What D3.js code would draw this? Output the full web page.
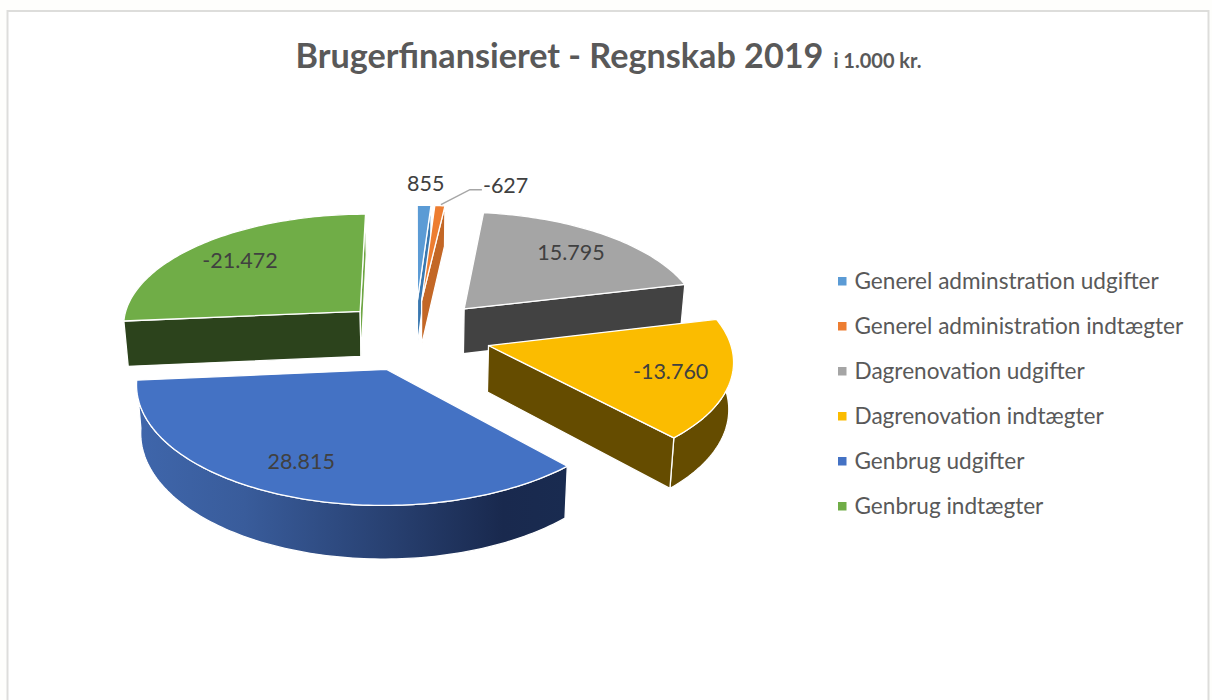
<!DOCTYPE html>
<html><head><meta charset="utf-8">
<script src="https://d3js.org/d3.v7.min.js"></script>
<style>html,body{margin:0;padding:0;background:#FEFEFC}svg{display:block}text{font-family:Lato,"Open Sans",sans-serif}</style>
</head><body><svg id="c" width="1212" height="700"></svg>
<script>
const categories=["Generel adminstration udgifter","Generel administration indtægter","Dagrenovation udgifter","Dagrenovation indtægter","Genbrug udgifter","Genbrug indtægter"];
const values=[855,-627,15795,-13760,28815,-21472];
const valueLabels=["855","-627","15.795","-13.760","28.815","-21.472"];
const topColors=["#5B9BD5","#ED7D31","#A5A5A5","#FBBC00","#4472C4","#70AD47"];
const wallColors=["#3A78B0","#C36726","#424242","#654C00","url(#blueWall)","#2C431C"];
const endCutColors=["#3A78B0","#C36726","#424242","#654C00","#192B50","#6EA644"];
const titleMain="Brugerfinansieret - Regnskab 2019", titleSub="i 1.000 kr.";

const W=1212,H=700,cx=415,cy=335,R=240,tilt=.47,persp=.11,explode=.317,depth=46,taper=.985,labelR=.75,outerLabelR=1.27;
const labelNudgeX=[0,0,0,2,-10,0];
const svg=d3.select("#c");
const defs=svg.append("defs");
const grad=defs.append("linearGradient").attr("id","blueWall").attr("x1",0).attr("x2",1).attr("y1",0).attr("y2",0);
[[0,"#3F66AB"],[.25,"#395C9B"],[.6,"#273F6F"],[.85,"#19294E"],[1,"#192B50"]].forEach(d=>grad.append("stop").attr("offset",d[0]).attr("stop-color",d[1]));

svg.append("rect").attr("x",7.5).attr("y",11).attr("width",1201).attr("height",H+20).attr("fill","#fff").attr("stroke","#DDDDDB").attr("stroke-width",2);

const arcs=d3.pie().sort(null).value(d=>Math.abs(d))(values);
const slices=arcs.map((a,i)=>{
  const mid=(a.startAngle+a.endAngle)/2;
  return {i,a0:a.startAngle,a1:a.endAngle,mid,ox:explode*Math.sin(mid),oy:-explode*Math.cos(mid)};
});
function proj(X,Y){const s=1/(1-persp*Y);return [cx+X*R*s,cy+Y*R*tilt*s,s];}
function upper(X,Y){const p=proj(X,Y);return [p[0],p[1]];}
function lower(X,Y){const p=proj(X,Y);return [cx+(p[0]-cx)*taper,p[1]+depth*p[2]];}
function rim(sl,f){const n=Math.max(4,Math.ceil((sl.a1-sl.a0)/.02));
  return d3.range(n+1).map(k=>{const a=sl.a0+(sl.a1-sl.a0)*k/n;return f(sl.ox+Math.sin(a),sl.oy-Math.cos(a));});}
const line=d3.line().curve(d3.curveLinear);
const closed=pts=>line(pts)+"Z";
const order=slices.slice().sort((a,b)=>a.oy-b.oy);
const gp=svg.append("g");
order.forEach(sl=>{
  const wall=wallColors[sl.i],A=upper(sl.ox,sl.oy),B=lower(sl.ox,sl.oy);
  const t=rim(sl,upper),b=rim(sl,lower);
  const style=p=>p.attr("stroke","#fff").attr("stroke-width",1.3).attr("stroke-linejoin","round");
  style(gp.append("path").attr("d",closed(t.concat(b.slice().reverse()))).attr("fill",wall));
  if(Math.sin(sl.a0)<0) style(gp.append("path").attr("d",closed([A,t[0],b[0],B])).attr("fill",wall));
  if(Math.sin(sl.a1)>-0.01) style(gp.append("path").attr("d",closed([A,t[t.length-1],b[b.length-1],B])).attr("fill",endCutColors[sl.i]));
  style(gp.append("path").attr("d",closed([A].concat(t))).attr("fill",topColors[sl.i]));
});

const lab=svg.append("g").attr("font-size",21.5).attr("fill","#404040").attr("text-anchor","middle");
slices.forEach(sl=>{
  if(sl.i===1)return;
  const q=sl.i===0?outerLabelR:labelR;
  const p=upper(sl.ox+q*Math.sin(sl.mid),sl.oy-q*Math.cos(sl.mid));
  lab.append("text").attr("x",p[0]+labelNudgeX[sl.i]).attr("y",p[1]+8).text(valueLabels[sl.i]);
});
const s1=slices[1],e=upper(s1.ox+Math.sin(s1.mid),s1.oy-Math.cos(s1.mid));
svg.append("path").attr("d",line([[e[0]+1,e[1]-1],[e[0]+30,e[1]-16],[e[0]+42,e[1]-16]])).attr("fill","none").attr("stroke","#A6A6A6").attr("stroke-width",1.5);
lab.append("text").attr("text-anchor","start").attr("x",e[0]+43).attr("y",e[1]-13).text(valueLabels[1]);

const tt=svg.append("text").attr("x",608.5).attr("y",68).attr("text-anchor","middle").attr("fill","#595959").attr("font-weight",700).attr("font-size",34.2);
tt.append("tspan").text(titleMain);
tt.append("tspan").attr("font-size",20).attr("dx",10).text(titleSub);

const ly=d3.scalePoint().domain(categories).range([281,506]);
const lc=d3.scaleOrdinal().domain(categories).range(topColors);
const leg=svg.append("g").selectAll("g").data(categories).join("g").attr("transform",d=>`translate(838,${ly(d)})`);
leg.append("rect").attr("x",0).attr("y",-4).attr("width",8.5).attr("height",8.5).attr("fill",d=>lc(d));
leg.append("text").attr("x",16.5).attr("y",8).attr("font-size",22.6).attr("fill","#595959").text(d=>d);
</script></body></html>
